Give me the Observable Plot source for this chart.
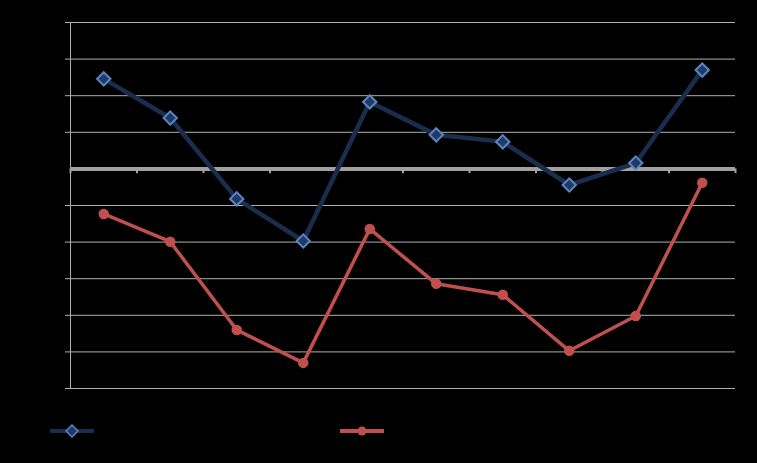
<!DOCTYPE html>
<html>
<head>
<meta charset="utf-8">
<script src="https://cdn.jsdelivr.net/npm/d3@7"></script>
<script src="https://cdn.jsdelivr.net/npm/@observablehq/plot@0.6"></script>
<style>
  html, body { margin: 0; padding: 0; background: #000; }
  #chart svg { display: block; background: #000; }
  #legend { position: relative; height: 53px; width: 757px; }
</style>
</head>
<body>
<div id="chart"></div>
<div id="legend"></div>
<script>
// Categories (labels are not legible in the reference; indexed 1..10)
const categories = [1, 2, 3, 4, 5, 6, 7, 8, 9, 10];
// Series values (in gridline units, zero at the thick axis line)
const seriesA = [2.46, 1.39, -0.82, -1.97, 1.83, 0.93, 0.74, -0.44, 0.16, 2.70];
const seriesB = [-1.23, -1.99, -4.40, -5.30, -1.64, -3.14, -3.44, -4.97, -4.02, -0.38];
// Gridline values
const gridValues = [-6, -5, -4, -3, -2, -1, 1, 2, 3, 4];
const boundaries = [0.5, 1.5, 2.5, 3.5, 4.5, 5.5, 6.5, 7.5, 8.5, 9.5, 10.5];

const dataA = categories.map((c, i) => ({x: c, y: seriesA[i]}));
const dataB = categories.map((c, i) => ({x: c, y: seriesB[i]}));

const blueLine = "#1A2D4D", blueFill = "#1F3A66", blueStroke = "#5A86C0", red = "#C0504D", gray = "#A0A0A0";

const plot = Plot.plot({
  width: 757,
  height: 410,
  marginTop: 22,
  marginBottom: 22,
  marginLeft: 70,
  marginRight: 22,
  style: {background: "#000"},
  x: {domain: [0.5, 10.5], axis: null},
  y: {domain: [-6, 4], axis: null},
  marks: [
    Plot.ruleY(gridValues, {y: d => d, x1: 0.425, x2: 10.5, stroke: "#AFAFAF", strokeWidth: 1}),
    Plot.ruleX([0.5], {y1: -6, y2: 4, stroke: "#AFAFAF", strokeWidth: 1}),
    Plot.ruleX(boundaries, {x: d => d, y1: 0, y2: -0.13, stroke: gray, strokeWidth: 2}),
    Plot.ruleY([0], {x1: 0.5, x2: 10.5, stroke: gray, strokeWidth: 4}),
    Plot.line(dataB, {x: "x", y: "y", stroke: red, strokeWidth: 3.5}),
    Plot.dot(dataB, {x: "x", y: "y", r: 4.5, fill: red, stroke: red}),
    Plot.line(dataA, {x: "x", y: "y", stroke: blueLine, strokeWidth: 4.5}),
    Plot.dot(dataA, {x: "x", y: "y", symbol: "diamond2", r: 6, fill: blueFill, stroke: blueStroke, strokeWidth: 2})
  ]
});
document.getElementById("chart").appendChild(plot);

// Legend swatches
const leg = d3.select("#legend").append("svg").attr("width", 757).attr("height", 53);
const ly = 21;
const g1 = leg.append("g");
g1.append("line").attr("x1", 50).attr("x2", 94).attr("y1", ly).attr("y2", ly).attr("stroke", blueLine).attr("stroke-width", 4);
g1.append("path").attr("d", d3.symbol(d3.symbolDiamond2, 90)()).attr("transform", `translate(72,${ly})`).attr("fill", blueFill).attr("stroke", blueStroke).attr("stroke-width", 1.5);
const g2 = leg.append("g");
g2.append("line").attr("x1", 340).attr("x2", 384).attr("y1", ly).attr("y2", ly).attr("stroke", red).attr("stroke-width", 4);
g2.append("circle").attr("cx", 362).attr("cy", ly).attr("r", 4.5).attr("fill", red);
</script>
</body>
</html>
